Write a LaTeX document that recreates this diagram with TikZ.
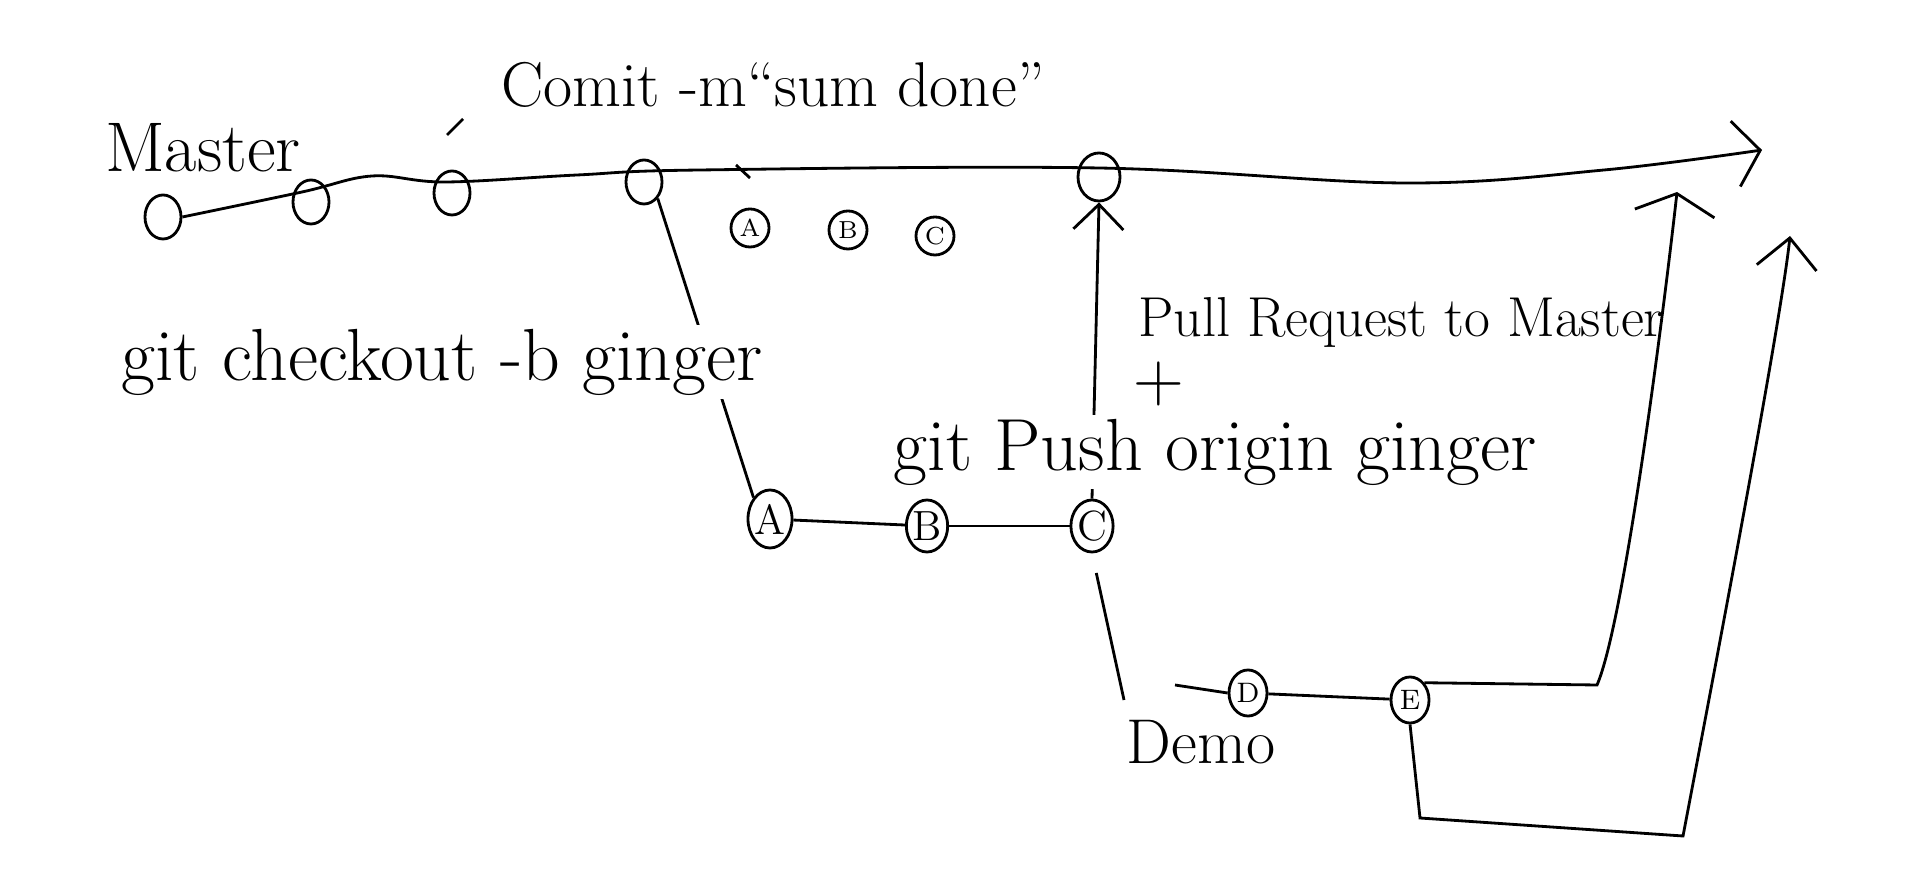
\documentclass[tikz,border=0pt]{standalone}
\usepackage{fontspec}
\usepackage{tikz}
\usetikzlibrary{arrows.meta}
\usetikzlibrary{shapes.geometric}

\begin{document}
\begin{tikzpicture}[x=0.01cm,y=-0.01cm]
			\tikzset{vertex/.style = {shape=ellipse,draw,thick,minimum width=0.36cm,
					minimum height=0.44cm, inner sep = 0pt}}
			\tikzset{vertexGhost/.style = {vertex,minimum width=0.38cm,
					minimum height=0.38cm,font=\scriptsize}}
			\tikzset{vertexBig/.style = {vertex,minimum width=0.44cm,
					minimum height=0.58cm,font=\large}}
			\tikzset{vertexDemo/.style = {vertex,minimum width=0.38cm,
					minimum height=0.46cm,font=\footnotesize}}
			\tikzset{edge/.style = {thick}}
			\tikzset{edgearr/.style = {thick,-{Straight Barb[length=2.5mm,width=5mm]}}}
			\tikzset{hand/.style = {inner sep=1pt,fill=white,
					font=\fontsize{21}{25}\selectfont}}
			
			\useasboundingbox (0,0) rectangle (1919,880);
			
			% vertices
			\node[vertex] (m1) at (163,217) {};
			\node[vertex] (m2) at (311,202) {};
			\node[vertex] (m3) at (452,193) {};
			\node[vertex] (m4) at (644,182) {};
			\node[vertex,minimum width=0.42cm,minimum height=0.48cm] (m5) at (1099,177) {};
			
			\node[vertexGhost] (ga) at (750,228) {A};
			\node[vertexGhost] (gb) at (848,230) {B};
			\node[vertexGhost] (gc) at (935,236) {C};
			
			\node[vertexBig] (a) at (770,519) {A};
			\node[vertexBig,minimum width=0.4cm,minimum height=0.52cm] (b) at (927,526) {B};
			\node[vertexBig,minimum width=0.42cm,minimum height=0.52cm] (c) at (1092,526) {C};
			
			\node[vertexDemo] (d) at (1248,693) {D};
			\node[vertexDemo] (e) at (1410,700) {E};
			
			% points the master line runs through
			\coordinate (w1) at (302,192);
			\coordinate (w2) at (372,176);
			\coordinate (w3) at (445,182);
			\coordinate (w4) at (577,175);
			\coordinate (w5) at (700,170);
			\coordinate (w6) at (1099,168);
			\coordinate (w7) at (1405,183);
			\coordinate (w8) at (1604,170);
			\coordinate (mend) at (1762,150);
			
			\coordinate (dbend) at (1124,700);
			\coordinate (dstub) at (1175,685);
			\coordinate (r1a) at (1597,685);
			\coordinate (tipA) at (1677,192);
			\coordinate (r2a) at (1420,818);
			\coordinate (r2b) at (1683,836);
			\coordinate (tipB) at (1790,236);
			\coordinate (tick1a) at (447,135);
			\coordinate (tick1b) at (463,119);
			\coordinate (tick2a) at (736,165);
			\coordinate (tick2b) at (750,178);
			
			%edges
			\draw[edge,-{Straight Barb[length=2.5mm,width=6.6mm]}] plot[smooth,tension=0.6]
				coordinates {(m1.east) (w1) (w2) (w3) (w4) (w5) (w6) (w7) (w8) (mend)};
			\draw[edge] (tick1a) -- (tick1b);
			\draw[edge] (tick2a) -- (tick2b);
			
			\draw[edge] (m4.south east) -- (a.north west);
			\draw[edge] (a) -- (b);
			\draw[edge] (b) -- (c);
			\draw[edgearr] (c.north) -- (m5.south);
			
			\draw[edge,shorten <=2mm] (c.south) -- (dbend);
			\draw[edge] (dstub) -- (d.west);
			\draw[edge] (d) -- (e);
			
			\draw[edge,-{Straight Barb[length=2mm,width=8mm]}] (e.north east) -- (r1a)
				.. controls (1625,620) and (1665,300) .. (tipA);
			\draw[edge,-{Straight Barb[length=3mm,width=6mm]}] (e.south) -- (r2a) -- (r2b)
				.. controls (1705,720) and (1780,330) .. (tipB);
			
			% labels
			\node[hand,fill=none,font=\fontsize{20}{24}\selectfont] (master) at (203,148) {Master};
			\node[hand,fill=none,font=\fontsize{18}{22}\selectfont] (commit) at (773,85) {Comit -m``sum done''};
			\node[hand] (checkout) at (442,362) {git checkout -b ginger};
			\node[hand] (push) at (1215,452) {git Push origin ginger};
			\node[hand,fill=none,font=\fontsize{16}{20}\selectfont] (pull) at (1401,322) {Pull Request to Master};
			\node[hand,fill=none,inner sep=0pt,text height=1.2ex,text depth=0pt,
				font=\fontsize{20}{24}\selectfont] (plus) at (1159,392) {+};
			\node[hand,fill=none,font=\fontsize{18}{22}\selectfont] (demo) at (1201,742) {Demo};
			
			\end{tikzpicture}
\end{document}
